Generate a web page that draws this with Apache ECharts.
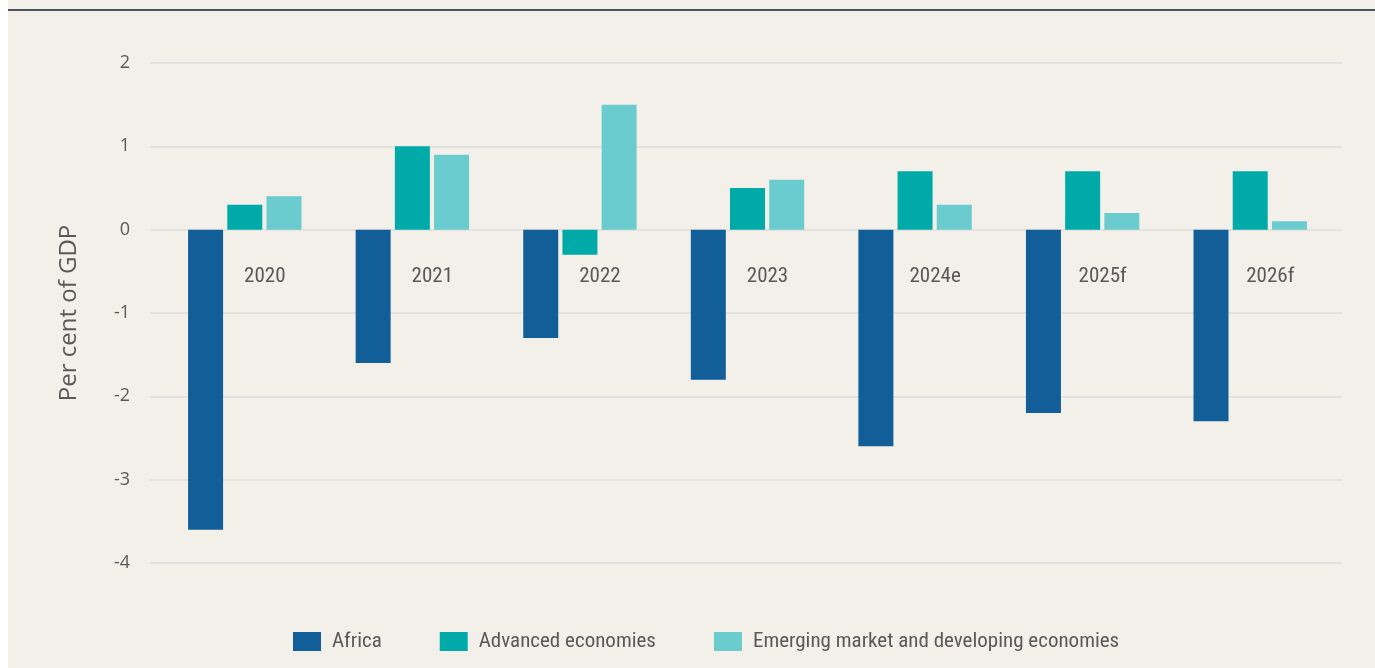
<!DOCTYPE html>
<html>
<head>
<meta charset="utf-8">
<script src="https://cdn.jsdelivr.net/npm/echarts@6/dist/echarts.min.js"></script>
<style>
  html, body { margin: 0; padding: 0; background: #ffffff; }
  #chartData { width: 1375px; height: 668px; }
</style>
</head>
<body>
<div id="chartData"></div>
<script>
// data
var years     = ['2020', '2021', '2022', '2023', '2024e', '2025f', '2026f'];
var africa    = [-3.6, -1.6, -1.3, -1.8, -2.6, -2.2, -2.3];
var advanced  = [0.3, 1.0, -0.3, 0.5, 0.7, 0.7, 0.7];
var emerging  = [0.4, 0.9, 1.5, 0.6, 0.3, 0.2, 0.1];
var yTicks    = [-4, 2, 1];   // min, max, interval
var seriesNames = ['Africa', 'Advanced economies', 'Emerging market and developing economies'];

var narrow = '"Liberation Sans Narrow", "Roboto Condensed", "DejaVu Sans Condensed", sans-serif';
var textColor = '#595959';

var myChart = echarts.init(document.getElementById('chartData'));

var option = {
    backgroundColor: '#f3f0ea',
    animation: false,
    graphic: [
        { type: 'rect', shape: { x: 0, y: 0, width: 8, height: 668 }, style: { fill: '#ffffff' } },
        { type: 'line', shape: { x1: 8, y1: 10, x2: 1375, y2: 10 }, style: { stroke: '#4a5262', lineWidth: 2 } }
    ],
    grid: [
        { left: 161, right: 41, top: 63, bottom: 105 },
        // second grid only for the wider grid lines
        { left: 150, right: 33, top: 63, bottom: 105 }
    ],
    legend: {
        left: 288,
        top: 626,
        itemWidth: 28,
        itemHeight: 19,
        itemGap: 58,
        icon: 'rect',
        textStyle: { fontFamily: narrow, fontSize: 21, color: textColor, padding: [0, 0, 0, 6] },
        data: seriesNames
    },
    xAxis: [
        {
            type: 'category',
            gridIndex: 0,
            data: years,
            offset: -334,   // sit the labels just under the zero line
            axisLine: { show: false, onZero: false },
            axisTick: { show: false },
            axisLabel: {
                margin: 37,
                padding: [0, 0, 0, 40],
                fontFamily: narrow,
                fontSize: 21,
                color: textColor
            }
        },
        {
            type: 'category',
            gridIndex: 1,
            data: years,
            show: false
        }
    ],
    yAxis: [
        {
            type: 'value',
            gridIndex: 0,
            min: yTicks[0],
            max: yTicks[1],
            interval: yTicks[2],
            name: 'Per cent of GDP',
            nameLocation: 'middle',
            nameGap: 80,
            nameTextStyle: { fontFamily: '"Open Sans", sans-serif', fontSize: 24, color: textColor },
            axisLine: { show: false },
            axisTick: { show: false },
            splitLine: { show: false },
            axisLabel: {
                margin: 31,
                fontFamily: '"Open Sans", sans-serif',
                fontSize: 18,
                color: textColor
            }
        },
        {
            type: 'value',
            gridIndex: 1,
            min: yTicks[0],
            max: yTicks[1],
            interval: yTicks[2],
            axisLine: { show: false },
            axisTick: { show: false },
            axisLabel: { show: false },
            splitLine: { show: true, lineStyle: { color: '#e4e3e1', width: 2 } },
            z: 0
        }
    ],
    series: [
        {
            name: seriesNames[0],
            type: 'bar',
            barWidth: 35,
            barGap: '12%',
            itemStyle: { color: '#115e99' },
            data: africa
        },
        {
            name: seriesNames[1],
            type: 'bar',
            barWidth: 35,
            barGap: '12%',
            itemStyle: { color: '#00aaa8' },
            data: advanced
        },
        {
            name: seriesNames[2],
            type: 'bar',
            barWidth: 35,
            barGap: '12%',
            itemStyle: { color: '#6accce' },
            data: emerging
        }
    ]
};

myChart.setOption(option);
</script>
</body>
</html>
